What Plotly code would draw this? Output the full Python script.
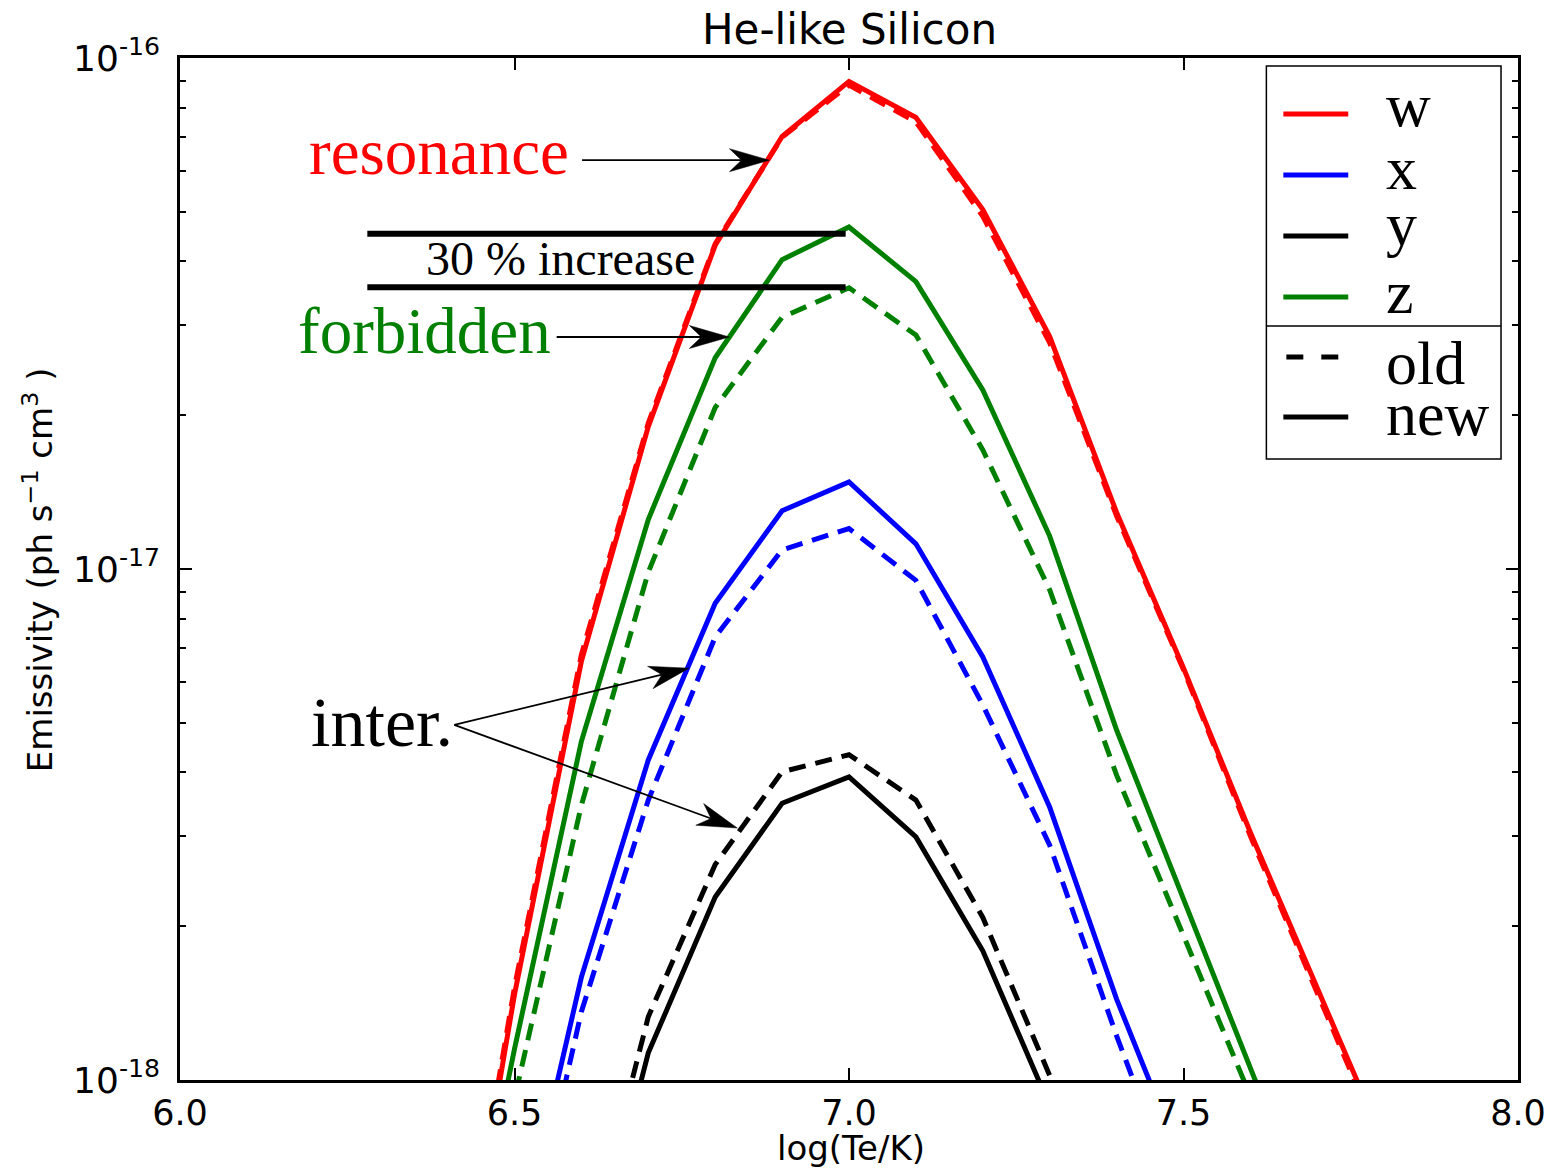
import math
import plotly.graph_objects as go

# Temperature grid, log10(Te / K)
log_t = [6.4, 6.5, 6.6, 6.7, 6.8, 6.9, 7.0, 7.1, 7.2, 7.3, 7.4, 7.5, 7.6, 7.7, 7.8]

# Line emissivities (ph s^-1 cm^3) for the He-like Si lines, new and old atomic data
w_new = [2.5e-19, 1.47e-18, 6.6e-18, 1.90e-17, 4.30e-17, 7.02e-17, 9.0e-17, 7.65e-17,
         5.05e-17, 2.85e-17, 1.29e-17, 6.4e-18, 3.05e-18, 1.51e-18, 7.5e-19]
w_old = [2.6e-19, 1.52e-18, 6.8e-18, 1.93e-17, 4.33e-17, 7.0e-17, 8.85e-17, 7.5e-17,
         4.9e-17, 2.77e-17, 1.27e-17, 6.35e-18, 3.0e-18, 1.48e-18, 7.3e-19]

x_new = [1.2e-19, 4.3e-19, 1.59e-18, 4.23e-18, 8.57e-18, 1.30e-17, 1.48e-17, 1.12e-17,
         6.73e-18, 3.42e-18, 1.44e-18, 6.8e-19, 3.0e-19, 1.3e-19, 6.0e-20]
x_old = [1.0e-19, 3.6e-19, 1.36e-18, 3.53e-18, 7.36e-18, 1.09e-17, 1.20e-17, 9.5e-18,
         5.42e-18, 2.88e-18, 1.22e-18, 5.4e-19, 2.4e-19, 1.1e-19, 5.0e-20]

y_new = [6.0e-20, 1.3e-19, 3.5e-19, 1.13e-18, 2.28e-18, 3.48e-18, 3.92e-18, 2.99e-18,
         1.79e-18, 8.9e-19, 4.0e-19, 1.8e-19, 8.0e-20, 4.0e-20, 2.0e-20]
y_old = [7.0e-20, 1.6e-19, 4.1e-19, 1.33e-18, 2.64e-18, 4.01e-18, 4.33e-18, 3.53e-18,
         2.08e-18, 1.02e-18, 4.5e-19, 2.0e-19, 9.0e-20, 4.5e-20, 2.2e-20]

z_new = [2.6e-19, 1.15e-18, 4.6e-18, 1.25e-17, 2.59e-17, 4.03e-17, 4.67e-17, 3.65e-17,
         2.24e-17, 1.16e-17, 4.84e-18, 2.28e-18, 1.08e-18, 5.0e-19, 2.3e-19]
z_old = [2.0e-19, 9.2e-19, 3.45e-18, 9.86e-18, 2.07e-17, 3.11e-17, 3.55e-17, 2.87e-17,
         1.71e-17, 9.1e-18, 3.95e-18, 1.92e-18, 9.3e-19, 4.3e-19, 2.0e-19]

# Reference levels marking the forbidden-line peak, old vs new
bar_x = [6.28, 6.995]
bar_levels = [4.53e-17, 3.56e-17]

line_labels = ["w", "x", "y", "z"]
line_colors = ["#ff0000", "#0000ff", "#000000", "#008000"]

X_RANGE = (6.0, 8.0)
LOGY_RANGE = (-18.0, -16.0)

W, H = 1558, 1169
L, R, T, B = 180, 38, 58, 89
PW, PH = W - L - R, H - T - B


def fx(px):
    """figure pixel column -> paper fraction"""
    return (px - L) / PW


def fy(py):
    """figure pixel row -> paper fraction"""
    return (H - B - py) / PH


def data_px(x, logy):
    """data point -> pixel offsets from the lower-left corner of the plot area"""
    u = (x - X_RANGE[0]) / (X_RANGE[1] - X_RANGE[0]) * PW
    v = (logy - LOGY_RANGE[0]) / (LOGY_RANGE[1] - LOGY_RANGE[0]) * PH
    return u, v


SERIF = "Liberation Serif"
SANS = "DejaVu Sans"

fig = go.Figure()

series = [(w_new, w_old), (x_new, x_old), (y_new, y_old), (z_new, z_old)]
for (new, old), color, label in zip(series, line_colors, line_labels):
    fig.add_trace(go.Scatter(x=log_t, y=new, mode="lines", name=f"{label} new",
                             line=dict(color=color, width=5)))
    fig.add_trace(go.Scatter(x=log_t, y=old, mode="lines", name=f"{label} old",
                             line=dict(color=color, width=5, dash="17px,10px")))

for lvl in bar_levels:
    fig.add_trace(go.Scatter(x=bar_x, y=[lvl, lvl], mode="lines",
                             line=dict(color="black", width=6), hoverinfo="skip"))

annotations = []
shapes = []


def text_ann(text, px, py, size, color="black", family=SERIF, **kw):
    d = dict(text=text, x=fx(px), y=fy(py), xref="paper", yref="paper",
             showarrow=False, font=dict(family=family, size=size, color=color),
             xanchor="center", yanchor="middle")
    d.update(kw)
    annotations.append(d)


def arrow(tail, head, head_len=40.0, notch=28.0, half_w=11.5):
    """thin shaft with a filled, swept-back arrow head (data coords, y in log10)"""
    tx, ty = data_px(*tail)
    hx, hy = data_px(*head)
    dx, dy = hx - tx, hy - ty
    d = math.hypot(dx, dy)
    ux, uy = dx / d, dy / d
    nx, ny = -uy, ux
    pts = [
        (hx, hy),
        (hx - head_len * ux + half_w * nx, hy - head_len * uy + half_w * ny),
        (hx - notch * ux, hy - notch * uy),
        (hx - head_len * ux - half_w * nx, hy - head_len * uy - half_w * ny),
    ]
    to_p = [(u / PW, v / PH) for u, v in pts]
    path = "M " + " L ".join(f"{a:.5f},{b:.5f}" for a, b in to_p) + " Z"
    shapes.append(dict(type="line", xref="paper", yref="paper",
                       x0=tx / PW, y0=ty / PH, x1=to_p[2][0], y1=to_p[2][1],
                       line=dict(color="black", width=1.8), layer="above"))
    shapes.append(dict(type="path", xref="paper", yref="paper", path=path,
                       fillcolor="black", line=dict(color="black", width=0.5),
                       layer="above"))


# line-identification labels and arrows (y positions in log10 units)
text_ann("resonance", 439, 152, 65, color="#ff0000")
arrow((6.601, -16.200), (6.881, -16.200))
text_ann("forbidden", 425, 331, 65, color="#008000")
arrow((6.563, -16.546), (6.821, -16.546))
text_ann("inter.", 382, 722, 70)
arrow((6.410, -17.305), (6.761, -17.194))
arrow((6.410, -17.305), (6.833, -17.507))
text_ann("30 % increase", 561, 258, 48)

# title and axis titles
text_ann("He-like Silicon", 851, 30, 42, family=SANS)
text_ann("log(Te/K)", 852, 1148, 34, family=SANS)
text_ann("Emissivity (ph s<sup>−1</sup> cm<sup>3</sup> )", 38, 570, 34, family=SANS,
         textangle=-90)

# legend box
shapes += [
    dict(type="rect", xref="paper", yref="paper", x0=fx(1268), x1=fx(1503),
         y0=fy(459), y1=fy(66), line=dict(color="black", width=1.5),
         fillcolor="white", layer="above"),
    dict(type="line", xref="paper", yref="paper", x0=fx(1268), x1=fx(1503),
         y0=fy(326), y1=fy(326), line=dict(color="black", width=1.5), layer="above"),
]
legend_rows = [114, 175, 236, 297]
legend_text_y = [105, 168, 224, 292]
for row, ty, color, label in zip(legend_rows, legend_text_y, line_colors, line_labels):
    shapes.append(dict(type="line", xref="paper", yref="paper", x0=fx(1285), x1=fx(1350),
                       y0=fy(row), y1=fy(row), line=dict(color=color, width=5), layer="above"))
    text_ann(label, 1386, ty, 62, xanchor="left")
for seg in [(1288, 1305), (1323, 1340)]:
    shapes.append(dict(type="line", xref="paper", yref="paper", x0=fx(seg[0]), x1=fx(seg[1]),
                       y0=fy(357), y1=fy(357), line=dict(color="black", width=5), layer="above"))
text_ann("old", 1386, 363, 62, xanchor="left")
shapes.append(dict(type="line", xref="paper", yref="paper", x0=fx(1285), x1=fx(1350),
                   y0=fy(417), y1=fy(417), line=dict(color="black", width=5), layer="above"))
text_ann("new", 1386, 414, 62, xanchor="left")

minor_vals = [k * 10.0 ** e for e in (-18, -17) for k in range(2, 10)]

fig.update_layout(
    width=W, height=H,
    margin=dict(l=L, r=R, t=T, b=B),
    paper_bgcolor="white", plot_bgcolor="white",
    showlegend=False,
    annotations=annotations,
    shapes=shapes,
    xaxis=dict(
        range=list(X_RANGE),
        tickvals=[6.0, 6.5, 7.0, 7.5, 8.0],
        ticktext=["6.0", "6.5", "7.0", "7.5", "8.0"],
        ticks="inside", ticklen=12, tickwidth=1.5, tickcolor="black",
        showline=True, linewidth=2.5, linecolor="black", mirror="allticks",
        showgrid=False, zeroline=False,
        tickfont=dict(family=SANS, size=35, color="black"),
    ),
    yaxis=dict(
        type="log", range=list(LOGY_RANGE),
        tickvals=[1e-18, 1e-17, 1e-16],
        ticktext=["10<sup>-18</sup>", "10<sup>-17</sup>", "10<sup>-16</sup>"],
        ticks="inside", ticklen=12, tickwidth=1.5, tickcolor="black",
        minor=dict(tickvals=minor_vals, ticks="inside", ticklen=6,
                   tickwidth=1.5, tickcolor="black", showgrid=False),
        showline=True, linewidth=2.5, linecolor="black", mirror="allticks",
        showgrid=False, zeroline=False,
        ticklabelstandoff=10,
        tickfont=dict(family=SANS, size=36, color="black"),
    ),
)

fig.write_html("out.html")
